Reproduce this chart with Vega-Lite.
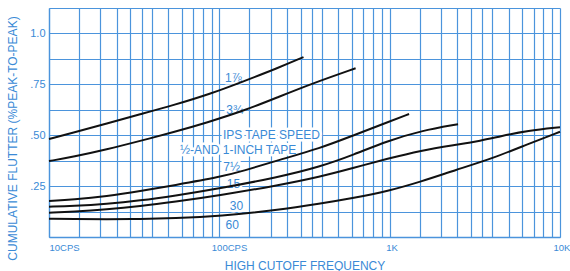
{
  "$schema": "https://vega.github.io/schema/vega-lite/v6.json",
  "autosize": {"type": "none"},
  "padding": {"left": 49, "top": 8, "right": 10, "bottom": 34},
  "width": 511,
  "height": 229,
  "background": "white",
  "config": {
    "view": {"stroke": null},
    "font": "Liberation Sans"
  },
  "datasets": {
    "curves": [
      {"speed": "1 7/8", "freq": 10, "flutter": 0.481},
      {"speed": "1 7/8", "freq": 13.8, "flutter": 0.512},
      {"speed": "1 7/8", "freq": 21.9, "flutter": 0.558},
      {"speed": "1 7/8", "freq": 34.3, "flutter": 0.603},
      {"speed": "1 7/8", "freq": 53.5, "flutter": 0.647},
      {"speed": "1 7/8", "freq": 88.5, "flutter": 0.703},
      {"speed": "1 7/8", "freq": 138, "flutter": 0.764},
      {"speed": "1 7/8", "freq": 220, "flutter": 0.830},
      {"speed": "1 7/8", "freq": 312, "flutter": 0.884},
      {"speed": "3 3/4", "freq": 10, "flutter": 0.373},
      {"speed": "3 3/4", "freq": 13.9, "flutter": 0.394},
      {"speed": "3 3/4", "freq": 21.8, "flutter": 0.430},
      {"speed": "3 3/4", "freq": 34.3, "flutter": 0.472},
      {"speed": "3 3/4", "freq": 53.9, "flutter": 0.515},
      {"speed": "3 3/4", "freq": 84.6, "flutter": 0.562},
      {"speed": "3 3/4", "freq": 139, "flutter": 0.620},
      {"speed": "3 3/4", "freq": 218, "flutter": 0.685},
      {"speed": "3 3/4", "freq": 345, "flutter": 0.752},
      {"speed": "3 3/4", "freq": 631, "flutter": 0.829},
      {"speed": "7 1/2", "freq": 10, "flutter": 0.177},
      {"speed": "7 1/2", "freq": 13.9, "flutter": 0.184},
      {"speed": "7 1/2", "freq": 21.8, "flutter": 0.200},
      {"speed": "7 1/2", "freq": 34.3, "flutter": 0.225},
      {"speed": "7 1/2", "freq": 53.9, "flutter": 0.254},
      {"speed": "7 1/2", "freq": 101.5, "flutter": 0.295},
      {"speed": "7 1/2", "freq": 139, "flutter": 0.325},
      {"speed": "7 1/2", "freq": 219, "flutter": 0.376},
      {"speed": "7 1/2", "freq": 391, "flutter": 0.436},
      {"speed": "7 1/2", "freq": 616, "flutter": 0.500},
      {"speed": "7 1/2", "freq": 974, "flutter": 0.564},
      {"speed": "7 1/2", "freq": 1300, "flutter": 0.604},
      {"speed": "15", "freq": 10, "flutter": 0.149},
      {"speed": "15", "freq": 13.9, "flutter": 0.152},
      {"speed": "15", "freq": 21.8, "flutter": 0.162},
      {"speed": "15", "freq": 34.3, "flutter": 0.179},
      {"speed": "15", "freq": 53.9, "flutter": 0.202},
      {"speed": "15", "freq": 101.5, "flutter": 0.239},
      {"speed": "15", "freq": 219, "flutter": 0.293},
      {"speed": "15", "freq": 391, "flutter": 0.345},
      {"speed": "15", "freq": 616, "flutter": 0.405},
      {"speed": "15", "freq": 974, "flutter": 0.472},
      {"speed": "15", "freq": 1527, "flutter": 0.522},
      {"speed": "15", "freq": 2520, "flutter": 0.554},
      {"speed": "30", "freq": 10, "flutter": 0.119},
      {"speed": "30", "freq": 13.9, "flutter": 0.124},
      {"speed": "30", "freq": 21.8, "flutter": 0.135},
      {"speed": "30", "freq": 34.3, "flutter": 0.151},
      {"speed": "30", "freq": 53.9, "flutter": 0.172},
      {"speed": "30", "freq": 101.5, "flutter": 0.205},
      {"speed": "30", "freq": 219, "flutter": 0.253},
      {"speed": "30", "freq": 391, "flutter": 0.296},
      {"speed": "30", "freq": 616, "flutter": 0.340},
      {"speed": "30", "freq": 974, "flutter": 0.385},
      {"speed": "30", "freq": 1527, "flutter": 0.425},
      {"speed": "30", "freq": 2395, "flutter": 0.452},
      {"speed": "30", "freq": 3444, "flutter": 0.473},
      {"speed": "30", "freq": 4500, "flutter": 0.496},
      {"speed": "30", "freq": 6457, "flutter": 0.522},
      {"speed": "30", "freq": 10000, "flutter": 0.539},
      {"speed": "60", "freq": 10, "flutter": 0.090},
      {"speed": "60", "freq": 13.9, "flutter": 0.088},
      {"speed": "60", "freq": 21.8, "flutter": 0.087},
      {"speed": "60", "freq": 34.3, "flutter": 0.088},
      {"speed": "60", "freq": 53.9, "flutter": 0.092},
      {"speed": "60", "freq": 101.5, "flutter": 0.103},
      {"speed": "60", "freq": 219, "flutter": 0.132},
      {"speed": "60", "freq": 391, "flutter": 0.164},
      {"speed": "60", "freq": 616, "flutter": 0.192},
      {"speed": "60", "freq": 974, "flutter": 0.225},
      {"speed": "60", "freq": 1527, "flutter": 0.272},
      {"speed": "60", "freq": 2395, "flutter": 0.327},
      {"speed": "60", "freq": 4113, "flutter": 0.389},
      {"speed": "60", "freq": 6457, "flutter": 0.456},
      {"speed": "60", "freq": 10000, "flutter": 0.517}
    ],
    "labels": [
      {"text": "1⅞", "freq": 121, "flutter": 0.780},
      {"text": "3¾", "freq": 123, "flutter": 0.626},
      {"text": "IPS TAPE SPEED", "freq": 202, "flutter": 0.501},
      {"text": "½-AND 1-INCH TAPE", "freq": 129, "flutter": 0.427},
      {"text": "7½", "freq": 118, "flutter": 0.344},
      {"text": "15", "freq": 121, "flutter": 0.260},
      {"text": "30", "freq": 126, "flutter": 0.152},
      {"text": "60", "freq": 119, "flutter": 0.059}
    ]
  },
  "encoding": {
    "x": {
      "field": "freq",
      "type": "quantitative",
      "scale": {"type": "log", "domain": [10, 10000], "nice": false},
      "axis": {
        "title": "HIGH CUTOFF FREQUENCY",
        "titleColor": "#3a8ad6",
        "titleFont": "Liberation Sans",
        "titleFontSize": 12,
        "titleFontWeight": "normal",
        "titleY": 28,
        "titleBaseline": "middle",
        "values": [10, 15, 20, 25, 30, 35, 40, 50, 60, 70, 80, 90, 100, 150, 200, 250, 300, 350, 400, 500, 600, 700, 800, 900, 1000, 1500, 2000, 2500, 3000, 3500, 4000, 5000, 6000, 7000, 8000, 9000, 10000],
        "labelExpr": "datum.value == 10 ? '10CPS' : datum.value == 100 ? '100CPS' : datum.value == 1000 ? '1K' : datum.value == 10000 ? '10K' : ''",
        "labelOverlap": false,
        "labelFlush": false,
        "labelAlign": "left",
        "labelOffset": {"condition": [
          {"test": "datum.value == 100", "value": -8},
          {"test": "datum.value == 1000", "value": -4},
          {"test": "datum.value == 10000", "value": -7}
        ], "value": 0},
        "labelColor": "#3a8ad6",
        "labelFontSize": 9.5,
        "labelPadding": 5,
        "ticks": false,
        "tickSize": 0,
        "domain": true,
        "domainColor": "#4b94dc",
        "domainWidth": 1.3,
        "grid": true,
        "gridColor": "#4b94dc",
        "gridWidth": 1.2,
        "gridOpacity": 1
      }
    },
    "y": {
      "field": "flutter",
      "type": "quantitative",
      "scale": {"domain": [0, 1.125], "nice": false, "zero": false},
      "axis": {
        "title": "CUMULATIVE FLUTTER (%PEAK-TO-PEAK)",
        "titleColor": "#3a8ad6",
        "titleFont": "Liberation Sans",
        "titleFontSize": 12,
        "titleFontWeight": "normal",
        "titleAngle": -90,
        "titleX": -37,
        "titleY": 130,
        "titleAlign": "center",
        "titleBaseline": "middle",
        "values": [0, 0.125, 0.25, 0.375, 0.5, 0.625, 0.75, 0.875, 1, 1.125],
        "labelExpr": "datum.value == 0.25 ? '.25' : datum.value == 0.5 ? '.50' : datum.value == 0.75 ? '.75' : datum.value == 1 ? '1.0' : ''",
        "labelOverlap": false,
        "labelFlush": false,
        "labelColor": "#3a8ad6",
        "labelFontSize": 11,
        "labelPadding": 4,
        "ticks": false,
        "tickSize": 0,
        "domain": true,
        "domainColor": "#4b94dc",
        "domainWidth": 1.3,
        "grid": true,
        "gridColor": "#4b94dc",
        "gridWidth": 1.2,
        "gridOpacity": 1
      }
    }
  },
  "layer": [
    {
      "data": {"name": "labels"},
      "mark": {"type": "text", "fontSize": 12, "align": "center", "baseline": "middle", "color": "white", "stroke": "white", "strokeWidth": 5, "strokeJoin": "round"},
      "encoding": {"text": {"field": "text"}}
    },
    {
      "data": {"name": "labels"},
      "mark": {"type": "text", "fontSize": 12, "align": "center", "baseline": "middle", "color": "#3a8ad6"},
      "encoding": {"text": {"field": "text"}}
    },
    {
      "data": {"name": "curves"},
      "mark": {"type": "line", "interpolate": "basis", "color": "#111111", "strokeWidth": 2},
      "encoding": {"detail": {"field": "speed"}}
    }
  ]
}
